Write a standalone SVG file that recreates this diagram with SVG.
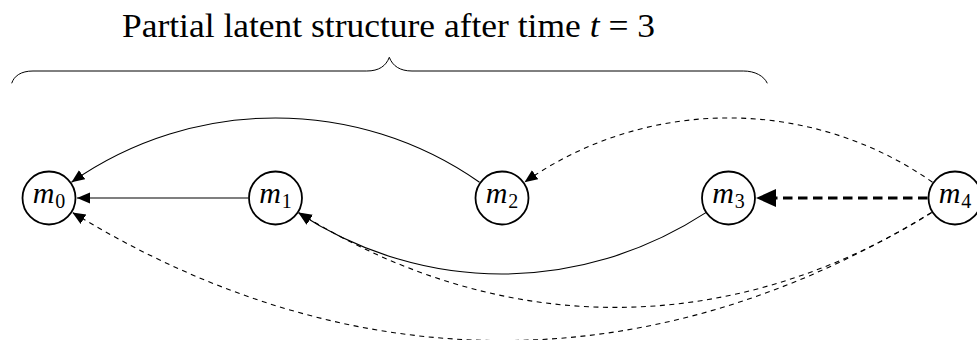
<svg xmlns="http://www.w3.org/2000/svg" width="977" height="340" viewBox="0 0 977 340">
<style>
.node circle{fill:#fff;stroke:#000;stroke-width:1.8}
.lbl{font-family:"Liberation Serif",serif;font-size:30px;fill:#000}
.lbl .m{font-style:italic}
.lbl .s{font-size:20px}
.e{fill:none;stroke:#000;stroke-width:1.1}
.d{stroke-dasharray:5 4.5}
.thick{stroke-width:3.2;stroke-dasharray:9.5 5.5}
.title{font-family:"Liberation Serif",serif;font-size:33px;fill:#000}
</style>
<defs>
<marker id="ah" markerUnits="userSpaceOnUse" markerWidth="15" markerHeight="13" refX="13" refY="5.5" orient="auto">
<path d="M0,0 L13,5.5 L0,11 z" fill="#000"/>
</marker>
<marker id="ahb" markerUnits="userSpaceOnUse" markerWidth="22" markerHeight="20" refX="0" refY="9" orient="auto">
<path d="M0,0 L20,9 L0,18 z" fill="#000"/>
</marker>
</defs>
<rect width="977" height="340" fill="#fff"/>
<text class="title" x="122" y="37" textLength="533" lengthAdjust="spacingAndGlyphs">Partial latent structure after time <tspan font-style="italic">t</tspan> = 3</text>
<path d="M11.7,83.3 C14,76 21,71 33,71 L366.7,71 C379,71 386,66 389.3,57.3 C392.6,66 400,71 412,71 L743.3,71 C755,71 764,76 767.3,83.3" fill="none" stroke="#000" stroke-width="1"/>
<g id="connectors">
<path class="e" d="M248,198 L77,198" marker-end="url(#ah)"/>
<path class="e" d="M479.5,182.2 C357,96.5 194,96.5 71.5,182.2" marker-end="url(#ah)"/>
<path class="e d" d="M932.5,182.2 C810,96.5 647,96.5 524.5,182.2" marker-end="url(#ah)"/>
<path class="e" d="M706.3,212.4 C580,294.5 424,294.5 298.6,213" marker-end="url(#ah)"/>
<path class="e d" d="M931.7,212.6 C729.4,339 501.1,339 298.8,212.6" marker-end="url(#ah)"/>
<path class="e d" d="M931.6,212.4 C652.6,383.3 351.4,383.3 72.4,212.4" marker-end="url(#ah)"/>
<path class="e thick" d="M927.5,198 L776,198" marker-end="url(#ahb)"/>
</g>
<g id="m0" class="node"><circle cx="49" cy="198" r="26.5"/><text class="lbl" x="49" y="203" text-anchor="middle"><tspan class="m">m</tspan><tspan class="s" dx="1" dy="5">0</tspan></text></g>
<g id="m1" class="node"><circle cx="275.5" cy="198" r="26.5"/><text class="lbl" x="275.5" y="203" text-anchor="middle"><tspan class="m">m</tspan><tspan class="s" dx="1" dy="5">1</tspan></text></g>
<g id="m2" class="node"><circle cx="502" cy="198" r="26.5"/><text class="lbl" x="502" y="203" text-anchor="middle"><tspan class="m">m</tspan><tspan class="s" dx="1" dy="5">2</tspan></text></g>
<g id="m3" class="node"><circle cx="728.5" cy="198" r="26.5"/><text class="lbl" x="728.5" y="203" text-anchor="middle"><tspan class="m">m</tspan><tspan class="s" dx="1" dy="5">3</tspan></text></g>
<g id="m4" class="node"><circle cx="955" cy="198" r="26.5"/><text class="lbl" x="955" y="203" text-anchor="middle"><tspan class="m">m</tspan><tspan class="s" dx="1" dy="5">4</tspan></text></g>
</svg>
